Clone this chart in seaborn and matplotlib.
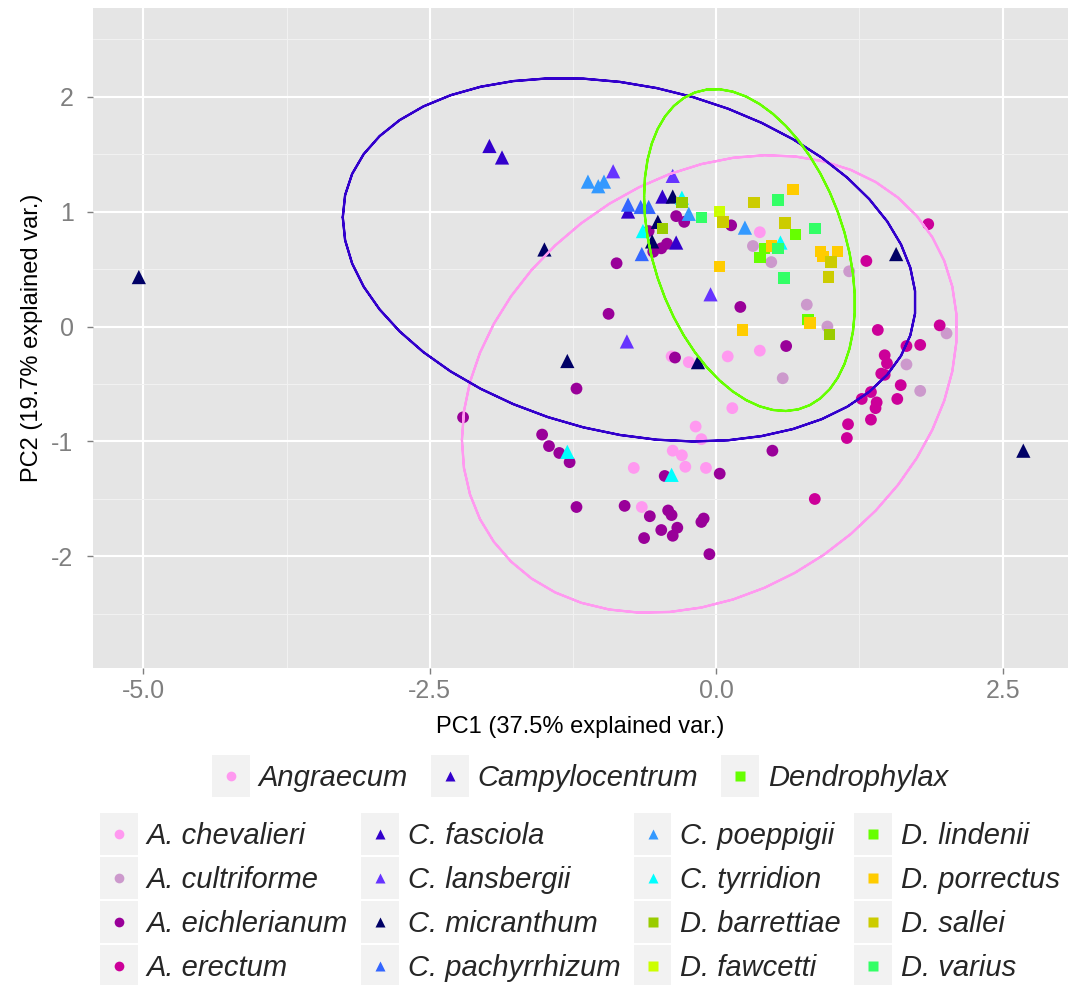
import numpy as np
import pandas as pd
import matplotlib
matplotlib.use("Agg")
import matplotlib.pyplot as plt
import seaborn as sns
from matplotlib.lines import Line2D
from matplotlib.patches import Rectangle
from matplotlib.legend_handler import HandlerBase
from matplotlib.ticker import FixedLocator

# ---------------- data ----------------
genera = ["Angraecum", "Campylocentrum", "Dendrophylax"]
genus_colors = ["#FF99F0", "#3300CC", "#66FF00"]
genus_markers = ["o", "^", "s"]

# genus ellipses: centre, half-extent along PC1 / PC2, correlation
ell_cx = [-0.06, -0.76, 0.29]
ell_cy = [-0.50, 0.58, 0.665]
ell_sx = [2.16, 2.50, 0.92]
ell_sy = [1.99, 1.58, 1.40]
ell_rho = [0.245, -0.234, -0.332]

species = ["A. chevalieri", "A. cultriforme", "A. eichlerianum", "A. erectum",
           "C. fasciola", "C. lansbergii", "C. micranthum", "C. pachyrrhizum",
           "C. poeppigii", "C. tyrridion", "D. barrettiae", "D. fawcetti",
           "D. lindenii", "D. porrectus", "D. sallei", "D. varius"]
species_genus = ["Angraecum"] * 4 + ["Campylocentrum"] * 6 + ["Dendrophylax"] * 6
species_colors = ["#FF99F0", "#CC99CC", "#990099", "#CC0099",
                  "#3300CC", "#6633FF", "#000066", "#3366FF",
                  "#3399FF", "#00FFFF", "#99CC00", "#CCFF00",
                  "#66FF00", "#FFCC00", "#CCCC00", "#33FF66"]

A_chevalieri = [(0.38, 0.82), (-0.39, -0.26), (-0.24, -0.31), (0.10, -0.26), (0.38, -0.21),
                (0.14, -0.71), (-0.18, -0.87), (-0.13, -0.98), (-0.38, -1.08), (-0.30, -1.12),
                (-0.27, -1.22), (-0.09, -1.23), (-0.72, -1.23), (-0.65, -1.57)]
A_cultriforme = [(0.32, 0.70), (0.48, 0.56), (1.16, 0.48), (0.79, 0.19), (0.97, 0.00),
                 (0.58, -0.45), (2.01, -0.06), (1.66, -0.33), (1.78, -0.56)]
A_eichlerianum = [(-0.35, 0.96), (-0.28, 0.91), (0.13, 0.88), (-0.59, 0.83), (-0.55, 0.65),
                  (-0.48, 0.68), (-0.43, 0.72), (-0.87, 0.55), (-0.94, 0.11), (0.21, 0.17),
                  (0.61, -0.17), (-0.36, -0.27), (-1.22, -0.54), (-1.52, -0.94), (-1.46, -1.04),
                  (-1.37, -1.10), (-1.28, -1.18), (-1.22, -1.57), (-2.21, -0.79), (0.49, -1.08),
                  (0.03, -1.28), (-0.45, -1.30), (-0.80, -1.56), (-0.58, -1.65), (-0.42, -1.60),
                  (-0.39, -1.64), (-0.48, -1.77), (-0.34, -1.75), (-0.38, -1.82), (-0.63, -1.84),
                  (-0.13, -1.70), (-0.11, -1.67), (-0.06, -1.98)]
A_erectum = [(1.85, 0.89), (1.31, 0.57), (1.41, -0.03), (1.95, 0.01), (1.78, -0.16),
             (1.66, -0.17), (1.47, -0.25), (1.49, -0.32), (1.44, -0.41), (1.47, -0.42),
             (1.61, -0.51), (1.58, -0.63), (1.35, -0.57), (1.27, -0.63), (1.40, -0.66),
             (1.39, -0.71), (1.35, -0.81), (1.15, -0.85), (1.14, -0.97), (0.86, -1.50)]
C_fasciola = [(-1.98, 1.57), (-1.87, 1.47), (-0.47, 1.13), (-0.77, 1.00), (-0.35, 0.73)]
C_lansbergii = [(-0.90, 1.35), (-0.38, 1.31), (-0.05, 0.28), (-0.78, -0.13)]
C_micranthum = [(-5.04, 0.43), (-1.50, 0.67), (-1.30, -0.30), (1.57, 0.63), (2.68, -1.08),
                (-0.16, -0.31), (-0.38, 1.13), (-0.51, 0.91), (-0.56, 0.74)]
C_pachyrrhizum = [(-0.77, 1.06), (-0.66, 1.04), (-0.59, 1.04), (-0.65, 0.63)]
C_poeppigii = [(-1.12, 1.26), (-1.03, 1.22), (-0.98, 1.26), (-0.24, 0.98), (0.25, 0.86)]
C_tyrridion = [(-1.30, -1.09), (-0.39, -1.29), (-0.64, 0.83), (0.56, 0.73), (-0.30, 1.12)]
D_barrettiae = [(-0.30, 1.08), (-0.47, 0.85), (0.99, -0.07)]
D_fawcetti = [(0.03, 1.00)]
D_lindenii = [(0.69, 0.80), (0.42, 0.68), (0.38, 0.60), (0.80, 0.06)]
D_porrectus = [(0.67, 1.19), (0.48, 0.70), (0.91, 0.65), (0.93, 0.61), (1.06, 0.65),
               (0.03, 0.52), (0.23, -0.03), (0.82, 0.03)]
D_sallei = [(0.33, 1.08), (0.06, 0.91), (0.60, 0.90), (1.00, 0.56), (0.98, 0.43)]
D_varius = [(0.54, 1.10), (-0.13, 0.95), (0.86, 0.85), (0.54, 0.68), (0.59, 0.42)]

species_points = [A_chevalieri, A_cultriforme, A_eichlerianum, A_erectum,
                  C_fasciola, C_lansbergii, C_micranthum, C_pachyrrhizum,
                  C_poeppigii, C_tyrridion, D_barrettiae, D_fawcetti,
                  D_lindenii, D_porrectus, D_sallei, D_varius]

x_ticks = [-5.0, -2.5, 0.0, 2.5]
x_ticklabels = ["-5.0", "-2.5", "0.0", "2.5"]
y_ticks = [-2, -1, 0, 1, 2]
y_ticklabels = ["-2", "-1", "0", "1", "2"]

# ---------------- table ----------------
rows = []
for sp, g, pts in zip(species, species_genus, species_points):
    for (x, y) in pts:
        rows.append({"PC1": x, "PC2": y, "species": sp, "genus": g})
df = pd.DataFrame(rows)

# ---------------- style ----------------
sns.set_style("darkgrid")
plt.rcParams["font.family"] = ["Liberation Sans", "DejaVu Sans"]
plt.rcParams["axes.unicode_minus"] = False

fig = plt.figure(figsize=(10.8, 9.85), dpi=100)
ax = fig.add_axes([93 / 1080, 1 - 668 / 985, (1068 - 93) / 1080, (668 - 8) / 985])
ax.set_facecolor("#E5E5E5")

sns.scatterplot(data=df, x="PC1", y="PC2", hue="species", style="genus", size="genus",
                palette=dict(zip(species, species_colors)),
                markers=dict(zip(genera, genus_markers)),
                sizes={"Angraecum": 72, "Campylocentrum": 105, "Dendrophylax": 68},
                hue_order=species, style_order=genera, size_order=genera,
                linewidth=0, legend=False, ax=ax, zorder=3)

# genus ellipses
theta = np.concatenate([np.linspace(-np.pi, np.pi, 50), np.linspace(np.pi, -np.pi, 50)])
circle = np.column_stack([np.cos(theta), np.sin(theta)])
for c, cx, cy, sx, sy, r in zip(genus_colors, ell_cx, ell_cy, ell_sx, ell_sy, ell_rho):
    S = np.array([[sx * sx, r * sx * sy], [r * sx * sy, sy * sy]])
    U = np.linalg.cholesky(S).T
    ell = circle @ U + np.array([cx, cy])
    ax.plot(ell[:, 0], ell[:, 1], color=c, lw=1.6, zorder=4)

ax.set_xlim(-5.44, 3.07)
ax.set_ylim(-2.97, 2.77)
ax.xaxis.set_major_locator(FixedLocator(x_ticks))
ax.set_xticklabels(x_ticklabels)
ax.xaxis.set_minor_locator(FixedLocator([-3.75, -1.25, 1.25]))
ax.yaxis.set_major_locator(FixedLocator(y_ticks))
ax.set_yticklabels(y_ticklabels)
ax.yaxis.set_minor_locator(FixedLocator([-2.5, -1.5, -0.5, 0.5, 1.5, 2.5]))
ax.grid(which="major", color="white", lw=1.5, zorder=0)
ax.grid(which="minor", color="#F2F2F2", lw=0.7, zorder=0)
ax.set_axisbelow(True)
for s in ax.spines.values():
    s.set_visible(False)
ax.tick_params(which="major", length=4, width=1, color="#7F7F7F", labelcolor="#7F7F7F",
               labelsize=18, bottom=True, left=True)
ax.tick_params(axis="x", which="major", pad=4)
ax.tick_params(axis="y", which="major", pad=10)
ax.tick_params(which="minor", length=0)
ax.set_xlabel("PC1 (37.5% explained var.)", fontsize=17, color="black")
ax.set_ylabel("PC2 (19.7% explained var.)", fontsize=17, color="black")
ax.xaxis.set_label_coords(0.5, -(716 - 668) / 660)
ax.yaxis.set_label_coords(-(93 - 43) / 975, 0.5)


# ---------------- legends ----------------
class KeyHandler(HandlerBase):
    def create_artists(self, legend, orig_handle, xdescent, ydescent, width, height,
                       fontsize, trans):
        rect = Rectangle((-xdescent, -ydescent - 5), width, height + 10,
                         facecolor="#F2F2F2", edgecolor="none", transform=trans)
        m = Line2D([width / 2 - xdescent], [height / 2 - ydescent],
                   marker=orig_handle.get_marker(), linestyle="none",
                   markerfacecolor=orig_handle.get_markerfacecolor(),
                   markeredgecolor="none", markersize=orig_handle.get_markersize(),
                   transform=trans)
        return [rect, m]


def mk(marker, color):
    return Line2D([], [], marker=marker, linestyle="none", markerfacecolor=color,
                  markeredgecolor="none", markersize=7)


g_handles = [mk(m, c) for m, c in zip(genus_markers, genus_colors)]
leg1 = fig.legend(g_handles, genera, loc="center", ncol=3,
                  bbox_to_anchor=(580 / 1080, 1 - 777 / 985),
                  handler_map={Line2D: KeyHandler()}, frameon=False,
                  prop={"family": "Liberation Sans", "style": "italic", "size": 21},
                  handlelength=1.3, handleheight=1.1, handletextpad=0.3,
                  columnspacing=0.8, borderpad=0, borderaxespad=0)

s_handles = [mk(genus_markers[genera.index(g)], c) for g, c in zip(species_genus, species_colors)]
leg2 = fig.legend(s_handles, species, loc="center", ncol=4,
                  bbox_to_anchor=(580 / 1080, 1 - 901 / 985),
                  handler_map={Line2D: KeyHandler()}, frameon=False,
                  prop={"family": "Liberation Sans", "style": "italic", "size": 21},
                  handlelength=1.3, handleheight=1.1, handletextpad=0.3,
                  labelspacing=0.48, columnspacing=0.45, borderpad=0, borderaxespad=0)

fig.savefig("out.png", dpi=100)
